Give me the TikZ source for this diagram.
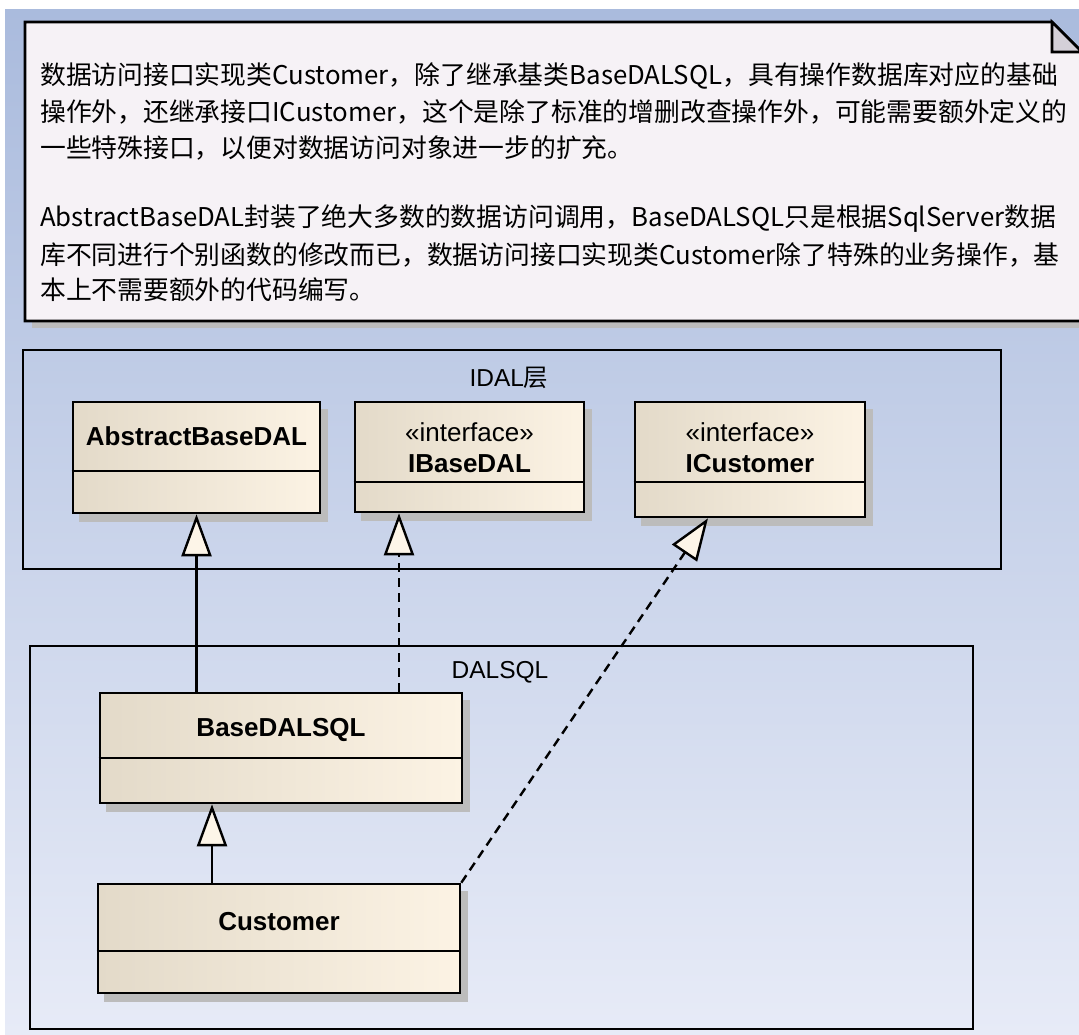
\documentclass[tikz,border=0pt]{standalone}
\usepackage{fontspec}
\setmainfont{Liberation Sans}
\newfontfamily\cjk{Noto Sans CJK SC}
\usetikzlibrary{arrows.meta}

\definecolor{bgTop}{RGB}{170,187,221}
\definecolor{bgBot}{RGB}{231,235,247}
\definecolor{noteFill}{RGB}{246,242,246}
\definecolor{foldFill}{RGB}{212,208,216}
\definecolor{clsL}{RGB}{227,218,201}
\definecolor{clsR}{RGB}{252,243,228}
\definecolor{tipFill}{RGB}{253,245,232}
\definecolor{shadowGray}{RGB}{188,188,188}

\pgfdeclarelayer{backdrop}
\pgfdeclarelayer{shadowlayer}
\pgfsetlayers{backdrop,shadowlayer,main}

\begin{document}
\begin{tikzpicture}[x=1pt,y=-1pt,
  umlclass/.style={draw=black, line width=2.6pt, rectangle, inner sep=0pt,
    left color=clsL, right color=clsR},
  pkg/.style={draw=black, line width=2.4pt, rectangle, inner sep=0pt},
  compline/.style={draw=black, line width=2.4pt},
  clsname/.style={inner sep=0pt, font=\bfseries\fontsize{26}{30}\selectfont},
  stereo/.style={inner sep=0pt, font=\fontsize{26}{30}\selectfont},
  pkgname/.style={inner sep=0pt, font=\fontsize{24.5}{28}\selectfont},
  noteline/.style={inner sep=0pt, anchor=west, font=\cjk\fontsize{25.8}{30}\selectfont},
  gen/.style={line width=2.4pt, -{Triangle[length=42pt,width=30pt,fill=tipFill]}},
  real/.style={gen, dash pattern=on 9pt off 6pt},
]
\useasboundingbox (0,0) rectangle (1079,1034);

% page background
\begin{pgfonlayer}{backdrop}
  \fill[white] (0,0) rectangle (1079,1034);
  \shade[top color=bgTop, bottom color=bgBot] (5,9) rectangle (1079,1034);
\end{pgfonlayer}

% note with folded corner
\fill[shadowGray] (32,321) rectangle (1079,328);
\filldraw[fill=noteFill, draw=black, line width=2.6pt]
  (25,22) -- (1052,22) -- (1082,52) -- (1082,321) -- (25,321) -- cycle;
\filldraw[fill=foldFill, draw=black, line width=2.6pt]
  (1052,22) -- (1052,52) -- (1082,52) -- cycle;

\node[noteline] (n1) at (40,76)  {数据访问接口实现类Customer，除了继承基类BaseDALSQL，具有操作数据库对应的基础};
\node[noteline] (n2) at (40,112) {操作外，还继承接口ICustomer，这个是除了标准的增删改查操作外，可能需要额外定义的};
\node[noteline] (n3) at (40,148) {一些特殊接口，以便对数据访问对象进一步的扩充。};
\node[noteline] (n4) at (40,218) {AbstractBaseDAL封装了绝大多数的数据访问调用，BaseDALSQL只是根据SqlServer数据};
\node[noteline] (n5) at (40,255) {库不同进行个别函数的修改而已，数据访问接口实现类Customer除了特殊的业务操作，基};
\node[noteline] (n6) at (40,290) {本上不需要额外的代码编写。};

% packages
\node[pkg, minimum width=978pt, minimum height=219pt] (idal) at (512,459.5) {};
\node[pkgname] (idalName) at (509,378) {IDAL{\cjk 层}};
\node[pkg, minimum width=943pt, minimum height=383pt] (dalsql) at (501.5,837.5) {};
\node[pkgname] (dalsqlName) at (500,672) {DALSQL};

% classes
\node[umlclass, minimum width=247pt, minimum height=111pt] (abstract) at (196.5,457.5) {};
\node[umlclass, minimum width=229pt, minimum height=110pt] (ibase) at (469.5,457) {};
\node[umlclass, minimum width=230pt, minimum height=115pt] (icust) at (750,459.5) {};
\node[umlclass, minimum width=362pt, minimum height=110pt] (basedalsql) at (281,748) {};
\node[umlclass, minimum width=362pt, minimum height=109pt] (customer) at (279,938.5) {};

% drop shadows
\begin{pgfonlayer}{shadowlayer}
  \foreach \c in {abstract,ibase,icust,basedalsql,customer}
    \fill[shadowGray] ([shift={(7,8)}]\c.north west) rectangle ([shift={(7,8)}]\c.south east);
\end{pgfonlayer}

% compartment lines
\draw[compline] ([yshift=-70pt]abstract.north west) -- ([yshift=-70pt]abstract.north east);
\draw[compline] ([yshift=-81pt]ibase.north west) -- ([yshift=-81pt]ibase.north east);
\draw[compline] ([yshift=-81pt]icust.north west) -- ([yshift=-81pt]icust.north east);
\draw[compline] ([yshift=-66pt]basedalsql.north west) -- ([yshift=-66pt]basedalsql.north east);
\draw[compline] ([yshift=-68pt]customer.north west) -- ([yshift=-68pt]customer.north east);

% class titles
\node[clsname] (abstractName) at ([yshift=-35pt]abstract.north) {AbstractBaseDAL};
\node[stereo] (ibaseSt) at ([yshift=-31pt]ibase.north) {«interface»};
\node[clsname] (ibaseName) at ([yshift=-63pt]ibase.north) {IBaseDAL};
\node[stereo] (icustSt) at ([yshift=-31pt]icust.north) {«interface»};
\node[clsname] (icustName) at ([yshift=-63pt]icust.north) {ICustomer};
\node[clsname] (basedalsqlName) at ([yshift=-38pt]basedalsql.north) {BaseDALSQL};
\node[clsname] (customerName) at ([yshift=-39pt]customer.north) {Customer};

% generalization and realization
\coordinate (ibTip) at ([xshift=-70.5pt]ibase.south);
\coordinate (bdTip) at ([xshift=-69pt]basedalsql.south);
\coordinate (icTip) at ([xshift=-42pt]icust.south);
\draw[gen] (basedalsql.north -| abstract.south) -- (abstract.south);
\draw[real] (ibTip |- basedalsql.north) -- (ibTip);
\draw[gen] (bdTip |- customer.north) -- (bdTip);
\draw[real] (customer.north east) -- (icTip);
\end{tikzpicture}
\end{document}
